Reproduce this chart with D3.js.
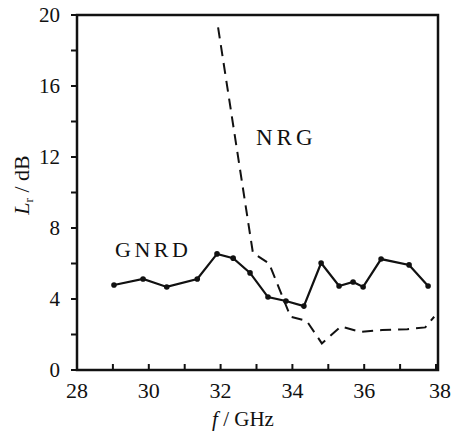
<!DOCTYPE html>
<html><head><meta charset="utf-8">
<script src="https://cdn.jsdelivr.net/npm/d3@7"></script>
<style>body{margin:0;background:#fff}svg{display:block}</style>
</head><body>
<svg id="c" width="452" height="432"></svg>
<script>
const gnrdF = [29.03,29.84,30.5,31.35,31.9,32.35,32.82,33.32,33.82,34.32,34.8,35.3,35.69,35.97,36.47,37.25,37.78];
const gnrdL = [4.79,5.13,4.68,5.13,6.54,6.3,5.47,4.11,3.89,3.6,6.03,4.73,4.96,4.68,6.25,5.92,4.73];
const nrgF = [31.93,32.9,33.35,33.95,34.4,34.82,35.35,35.9,36.5,37.2,37.7,37.95];
const nrgL = [19.3,6.6,6.0,3.0,2.76,1.5,2.45,2.15,2.25,2.3,2.4,3.0];
const xTicks = [28,30,32,34,36,38];
const xMinor = [29,31,33,35,37];
const yTicks = [0,4,8,12,16,20];
const yMinor = [2,6,10,14,18];

const FONT = "'Liberation Serif','Times New Roman',Times,Tinos,'DejaVu Serif','Noto Serif',serif";
const svg = d3.select("#c").attr("font-family", FONT);
const x = d3.scaleLinear().domain([28,38]).range([77,436]);
const y = d3.scaleLinear().domain([0,20]).range([370,15]);

svg.append("rect").attr("x",77).attr("y",15).attr("width",361).attr("height",355)
  .attr("fill","none").attr("stroke","#111").attr("stroke-width",2.5);

const xa = svg.append("g");
xa.selectAll("line").data(xTicks.concat(xMinor)).join("line")
  .attr("x1",d=>x(d)).attr("x2",d=>x(d)).attr("y1",370).attr("y2",364)
  .attr("stroke","#111").attr("stroke-width",2);
xa.selectAll("text").data(xTicks).join("text")
  .attr("font-family",FONT)
  .attr("x",d=>x(d)+(d===38?4:0)).attr("y",398).attr("text-anchor","middle")
  .attr("font-size",22).attr("fill","#111").text(d=>d);

const ya = svg.append("g");
ya.selectAll("line").data(yTicks.concat(yMinor)).join("line")
  .attr("x1",71).attr("x2",77).attr("y1",d=>y(d)).attr("y2",d=>y(d))
  .attr("stroke","#111").attr("stroke-width",2);
ya.selectAll("text").data(yTicks).join("text")
  .attr("font-family",FONT)
  .attr("x",60).attr("y",d=>y(d)+7).attr("text-anchor","end")
  .attr("font-size",21).attr("fill","#111").text(d=>d);

const line = d3.line().x(d=>x(d[0])).y(d=>y(d[1]));
svg.append("path").datum(nrgF.map((f,i)=>[f,nrgL[i]]))
  .attr("d",line).attr("fill","none").attr("stroke","#111").attr("stroke-width",2)
  .attr("stroke-dasharray","11,7");

const gd = gnrdF.map((f,i)=>[f,gnrdL[i]]);
svg.append("path").datum(gd).attr("d",line).attr("fill","none")
  .attr("stroke","#111").attr("stroke-width",2.2);
svg.selectAll("circle").data(gd).join("circle")
  .attr("cx",d=>x(d[0])).attr("cy",d=>y(d[1])).attr("r",2.8).attr("fill","#111");

svg.append("text").attr("font-family",FONT).attr("x",115).attr("y",257).attr("font-size",22)
  .attr("letter-spacing",3.5).attr("fill","#111").text("GNRD");
svg.append("text").attr("font-family",FONT).attr("x",256).attr("y",145).attr("font-size",23)
  .attr("letter-spacing",4).attr("fill","#111").text("NRG");

const xt = svg.append("text").attr("font-family",FONT).attr("x",243).attr("y",426)
  .attr("text-anchor","middle").attr("font-size",21).attr("fill","#111");
xt.append("tspan").attr("font-style","italic").text("f");
xt.append("tspan").text(" / GHz");

const yt = svg.append("text").attr("font-family",FONT).attr("transform","translate(29,185) rotate(-90)")
  .attr("text-anchor","middle").attr("font-size",22).attr("fill","#111");
yt.append("tspan").attr("font-style","italic").text("L");
yt.append("tspan").attr("font-size",13).attr("dy",4).text("r");
yt.append("tspan").attr("dy",-4).text(" / dB");
</script>
</body></html>
